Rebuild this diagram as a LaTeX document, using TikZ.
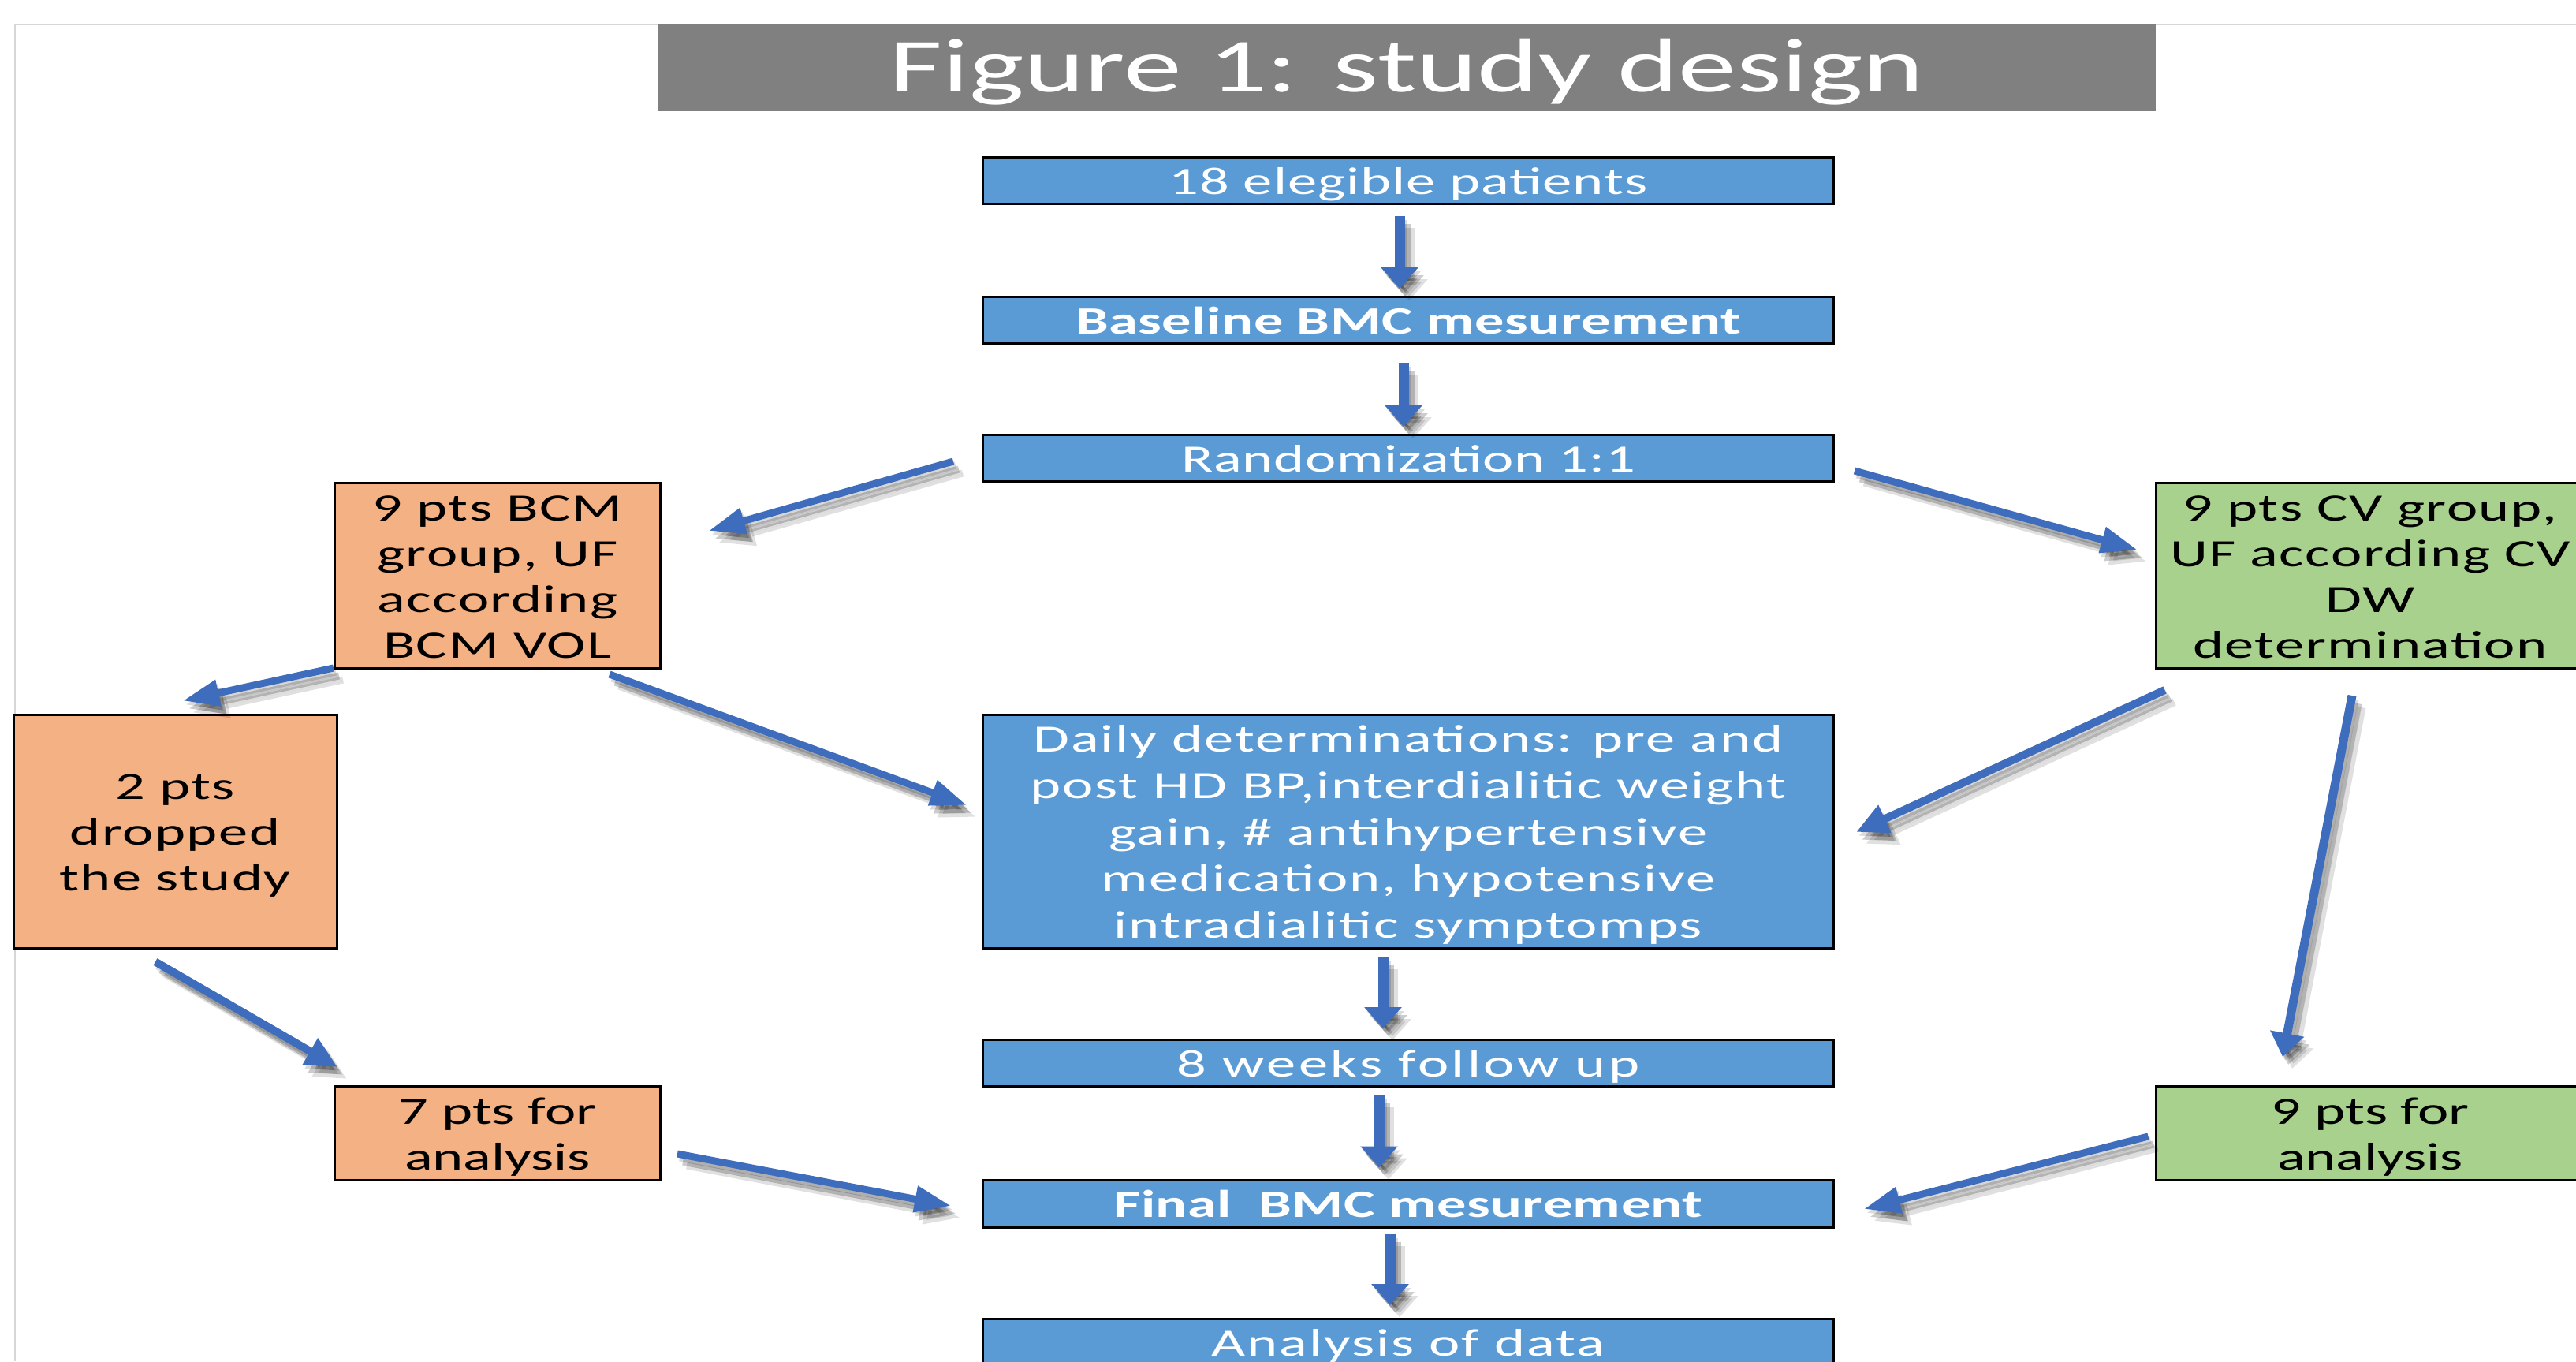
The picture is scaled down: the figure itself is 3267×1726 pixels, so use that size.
\documentclass[tikz,border=0pt]{standalone}
\usepackage{fontspec}
\setmainfont{Carlito}[FakeStretch=1.52]
\usetikzlibrary{arrows.meta,calc}
\definecolor{boxblue}{HTML}{5B9BD5}
\definecolor{boxorange}{HTML}{F4B183}
\definecolor{boxgreen}{HTML}{A9D18E}
\definecolor{titlegray}{HTML}{808080}
\definecolor{arrblue}{HTML}{3F6DBE}
\definecolor{pageline}{HTML}{D6D6D6}
\newcommand\tst{\rule[-12pt]{0pt}{59pt}}
\newcommand\tsh{\rule{0pt}{47pt}}
\newcommand\tsd{\rule[-12pt]{0pt}{12pt}}
\tikzset{
  basebox/.style={draw=black, line width=3pt, inner sep=0pt, align=center,
    font={\fontsize{49pt}{59pt}\selectfont}},
  bluebox/.style={basebox, fill=boxblue, text=white, minimum width=1079pt, minimum height=58pt},
  orangebox/.style={basebox, fill=boxorange, text=black},
  greenbox/.style={basebox, fill=boxgreen, text=black},
  titlebar/.style={fill=titlegray, text=white, inner sep=0pt, minimum width=1899pt,
    minimum height=109pt, font={\fontsize{97pt}{118pt}\selectfont}},
  arrv/.style={draw=arrblue, line width=13pt, -{Triangle[length=27pt,width=46pt]}, fill=arrblue},
  arrd/.style={draw=arrblue, line width=9pt, -{Triangle[length=46pt,width=32pt]}, fill=arrblue},
  arrm/.style={draw=arrblue, line width=10pt, -{Triangle[length=40pt,width=36pt]}, fill=arrblue},
  arrs/.style={draw=arrblue, line width=11pt, -{Triangle[length=30pt,width=42pt]}, fill=arrblue},
  shadA/.style={draw=black, fill=black, draw opacity=0.12, fill opacity=0.12,
    transform canvas={shift={(12pt,-15pt)}}},
  shadB/.style={draw=black, fill=black, draw opacity=0.20, fill opacity=0.20,
    transform canvas={shift={(7pt,-10pt)}}},
  shadC/.style={draw=black, fill=black, draw opacity=0.14, fill opacity=0.14,
    transform canvas={shift={(3pt,-5pt)}}},
}
\newcommand\flowarrow[3]{%
  \draw[#1,shadA] #2 -- #3;
  \draw[#1,shadB] #2 -- #3;
  \draw[#1,shadC] #2 -- #3;
  \draw[#1] #2 -- #3;}
\begin{document}
\begin{tikzpicture}[x=1pt,y=-1pt]
\useasboundingbox (0,0) rectangle (3267,1726);
\clip (0,0) rectangle (3267,1726);
\fill[white] (0,0) rectangle (3267,1726);
\draw[pageline, line width=2pt] (19,1726) -- (19,31) -- (3267,31);

\node[titlebar] (title) at (1784,86) {\rule[-20pt]{0pt}{102pt}Figure 1: study design};

\node[bluebox, font={\fontsize{49pt}{59pt}\selectfont\addfontfeatures{LetterSpace=2}}] (b1) at (1786,229) {\tst 18 elegible patients};
\node[bluebox, font={\fontsize{49pt}{59pt}\selectfont\bfseries\addfontfeatures{LetterSpace=1}}] (b2) at (1786,406) {\tst Baseline BMC mesurement};
\node[bluebox, font={\fontsize{49pt}{59pt}\selectfont\addfontfeatures{LetterSpace=1.5}}] (b3) at (1786,581) {\tst Randomization 1:1};
\node[bluebox, minimum height=296pt, font={\fontsize{49pt}{59pt}\selectfont\addfontfeatures{LetterSpace=4}}] (b4) at (1786,1054)
  {\tsh Daily determinations: pre and\\ post HD BP,interdialitic weight\\ gain, \# antihypertensive\\ medication, hypotensive\\ intradialitic symptomps\tsd};
\node[bluebox, font={\fontsize{49pt}{59pt}\selectfont\addfontfeatures{LetterSpace=7}}] (b5) at (1786,1348) {\tst 8 weeks follow up};
\node[bluebox, minimum height=60pt, font={\fontsize{49pt}{59pt}\selectfont\bfseries\addfontfeatures{LetterSpace=1}}] (b6) at (1786,1526) {\tst Final\ \ BMC mesurement};
\node[bluebox, font={\fontsize{49pt}{59pt}\selectfont\addfontfeatures{LetterSpace=4}}] (b7) at (1786,1702) {\tst Analysis of data};

\node[orangebox, minimum width=413pt, minimum height=235pt, font={\fontsize{49pt}{58pt}\selectfont\addfontfeatures{LetterSpace=3}}] (A) at (631,730)
  {\tsh 9 pts BCM\\ group, UF\\ according\\ BCM VOL\tsd};
\node[greenbox, minimum width=544pt, minimum height=235pt, font={\fontsize{49pt}{58pt}\selectfont\addfontfeatures{LetterSpace=3}}] (C) at (3006,730)
  {\tsh 9 pts CV group,\\ UF according CV\\ DW\\ determination\tsd};
\node[orangebox, minimum width=410pt, minimum height=296pt, font={\fontsize{49pt}{58pt}\selectfont\addfontfeatures{LetterSpace=3}}] (D) at (222,1054)
  {\tsh 2 pts\\ dropped\\ the study\tsd};
\node[orangebox, minimum width=413pt, minimum height=119pt, font={\fontsize{49pt}{58pt}\selectfont}] (E) at (631,1437)
  {\tsh 7 pts for\\ analysis\tsd};
\node[greenbox, minimum width=544pt, minimum height=119pt, font={\fontsize{49pt}{58pt}\selectfont}] (F) at (3006,1437)
  {\tsh 9 pts for\\ analysis\tsd};

% connectors
\flowarrow{arrv}{($(b1.south)+(-11,14)$)}{($(b2.north)+(-11,-9)$)}
\flowarrow{arrv}{($(b2.south)+(-6,23)$)}{($(b3.north)+(-6,-9)$)}
\flowarrow{arrd}{($(b3.west)+(-36,4)$)}{($(A.north east)+(60,62)$)}
\flowarrow{arrd}{($(b3.east)+(25,16)$)}{($(C.west)+(-22,-33)$)}
\flowarrow{arrd}{($(A.south west)+(0,-2)$)}{($(D.north)+(10,-16)$)}
\flowarrow{arrd}{($(A.south east)+(-66,6)$)}{($(b4.west)+(-19,-33)$)}
\flowarrow{arrm}{($(C.south west)+(13,26)$)}{($(b4.east)+(27,1)$)}
\flowarrow{arrs}{($(C.south)+(-23,33)$)}{($(F.north)+(-111,-36)$)}
\flowarrow{arrm}{($(D.south)+(-25,16)$)}{($(E.north west)+(5,-23)$)}
\flowarrow{arrv}{($(b4.south)+(-32,10)$)}{($(b5.north)+(-32,-13)$)}
\flowarrow{arrv}{($(b5.south)+(-37,10)$)}{($(b6.north)+(-37,-14)$)}
\flowarrow{arrd}{($(E.east)+(20,26)$)}{($(b6.west)+(-39,3)$)}
\flowarrow{arrd}{($(F.west)+(-8,4)$)}{($(b6.east)+(37,7)$)}
\flowarrow{arrv}{($(b6.south)+(-23,7)$)}{($(b7.north)+(-23,-16)$)}
\end{tikzpicture}
\end{document}
